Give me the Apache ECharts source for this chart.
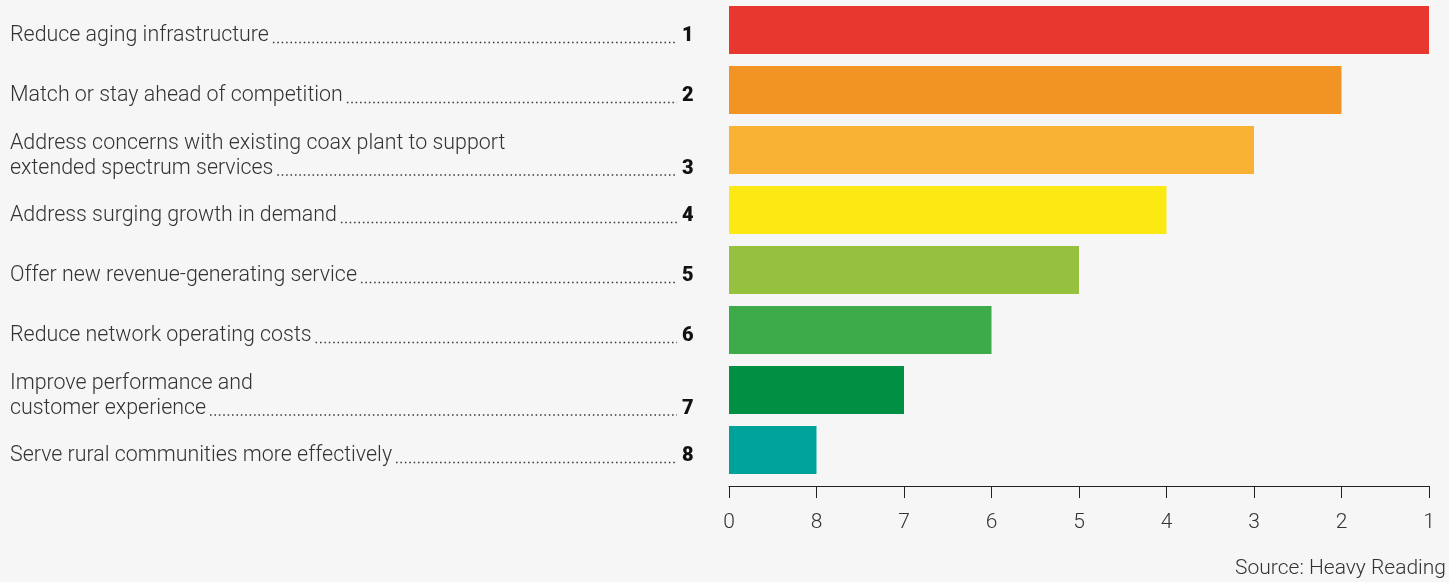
<!DOCTYPE html>
<html>
<head>
<meta charset="utf-8">
<script src="https://cdn.jsdelivr.net/npm/echarts@6/dist/echarts.min.js"></script>
<style>
  html, body { margin: 0; padding: 0; background: #F6F6F6; }
  #chart { width: 1449px; height: 582px; }
</style>
</head>
<body>
<div id="chart"></div>
<script>
// Drivers, listed from top-ranked to lowest-ranked
const categories = [
  'Reduce aging infrastructure',
  'Match or stay ahead of competition',
  'Address concerns with existing coax plant to support\nextended spectrum services',
  'Address surging growth in demand',
  'Offer new revenue-generating service',
  'Reduce network operating costs',
  'Improve performance and\ncustomer experience',
  'Serve rural communities more effectively'
];
const ranks = [1, 2, 3, 4, 5, 6, 7, 8];
const barColors = ['#E8372E', '#F29423', '#F9B233', '#FCE913', '#96C13E', '#3EAB4A', '#008F43', '#00A39B'];
const sourceText = 'Source: Heavy Reading';

// Bar length grows as rank improves: rank 1 is longest
const n = ranks.length;
const scores = ranks.map(r => n + 1 - r);
// Axis ticks read as ranks, counted back from the far end
const tickLabel = v => (v === 0 ? '0' : String(n + 1 - v));

const LABEL_FONT = '300 21.4px Roboto';
const measureCtx = document.createElement('canvas').getContext('2d');
function textWidth(s) {
  measureCtx.font = LABEL_FONT;
  return measureCtx.measureText(s).width;
}

const chart = echarts.init(document.getElementById('chart'), null, { renderer: 'canvas' });

chart.setOption({
  backgroundColor: '#F6F6F6',
  animation: false,
  title: {
    text: sourceText,
    right: 3,
    top: 558,
    padding: 0,
    textStyle: { fontFamily: 'Roboto', fontWeight: 300, fontSize: 21, color: '#333' }
  },
  grid: { left: 729, right: 20, top: 0, height: 480 },
  xAxis: {
    type: 'value',
    min: 0,
    max: n,
    interval: 1,
    offset: 6,
    splitLine: { show: false },
    axisLine: { show: true, lineStyle: { color: '#222', width: 1 } },
    axisTick: { show: true, length: 12, lineStyle: { color: '#222', width: 1 } },
    axisLabel: {
      margin: 26,
      formatter: tickLabel,
      fontFamily: 'Roboto',
      fontWeight: 300,
      fontSize: 21,
      color: '#333'
    }
  },
  yAxis: {
    type: 'category',
    data: categories,
    inverse: true,
    axisLine: { show: false },
    axisTick: { show: false },
    axisLabel: { show: false }
  },
  series: [
    {
      type: 'bar',
      barWidth: 48,
      data: scores.map((v, i) => ({ value: v, itemStyle: { color: barColors[i] } }))
    },
    {
      // Left-hand labels with dotted leaders and bold rank numbers
      type: 'custom',
      clip: false,
      silent: true,
      data: categories.map((c, i) => [0, i]),
      renderItem: function (params, api) {
        const i = params.dataIndex;
        const pt = api.coord([0, i]);
        const lines = categories[i].split('\n');
        const lineH = 25;
        const lastY = pt[1] + 6 + (lines.length - 1) * lineH / 2;
        const children = [];
        lines.forEach((ln, k) => {
          children.push({
            type: 'text',
            style: {
              text: ln,
              x: 10,
              y: lastY - (lines.length - 1 - k) * lineH,
              verticalAlign: 'middle',
              align: 'left',
              font: LABEL_FONT,
              fill: '#333'
            }
          });
        });
        const last = lines[lines.length - 1];
        const dotStart = 10 + textWidth(last) + 4;
        children.push({
          type: 'line',
          shape: { x1: dotStart, y1: lastY + 6.5, x2: 677, y2: lastY + 6.5 },
          style: { stroke: '#333', lineWidth: 1.5, lineDash: [1.5, 2.9] }
        });
        children.push({
          type: 'text',
          style: {
            text: String(ranks[i]),
            x: 682,
            y: lastY,
            verticalAlign: 'middle',
            align: 'left',
            font: '900 20px Roboto',
            fill: '#111'
          }
        });
        return { type: 'group', children: children };
      }
    }
  ]
});
</script>
</body>
</html>
